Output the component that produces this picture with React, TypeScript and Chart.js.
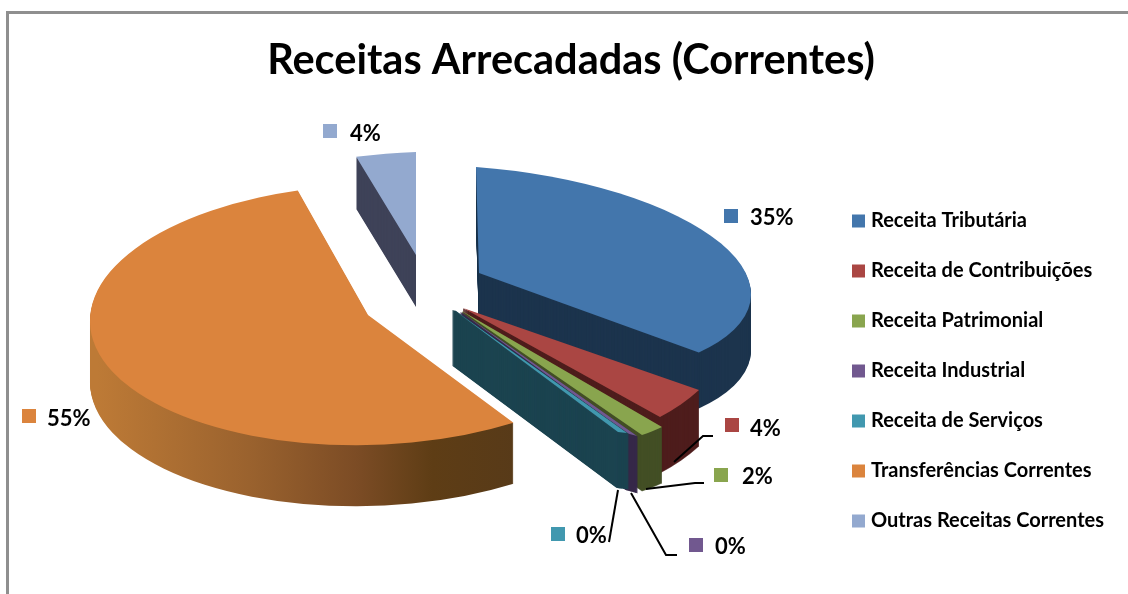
import React, { useEffect, useRef } from "react";
import Chart from "chart.js/auto";

const W = 1128;
const H = 594;
const FONT = "Lato";

const titleText = "Receitas Arrecadadas (Correntes)";
const categories = [
  "Receita Tributária",
  "Receita de Contribuições",
  "Receita Patrimonial",
  "Receita Industrial",
  "Receita de Serviços",
  "Transferências Correntes",
  "Outras Receitas Correntes",
];
const shares = [35.2, 3.9, 1.8, 0.4, 0.2, 54.7, 3.8];
const topColors = ["#4376ac", "#aa4643", "#89a54e", "#71588f", "#4198af", "#db843d", "#93a9cf"];
const wallColors = ["#1c344d", "#4e1d1c", "#434f25", "#37294a", "#1c4450", "orange", "#3e4258"];

// Projection of each slice onto the page: apex, image of the unit east / south radius, or two rim corners.
type Pt = [number, number];
type Proj = { c: Pt; e?: Pt; s?: Pt; p0?: Pt; p1?: Pt; depth: number; edge: number; step: number };
const projections: Proj[] = [
  { c: [479, 273], e: [272, 20], s: [3, 106], depth: 56, edge: 0, step: 1 },
  { c: [463, 308], p0: [699, 390], p1: [660, 417], depth: 56, edge: 0.6, step: 1 },
  { c: [462, 311], p0: [662, 427], p1: [642, 435], depth: 56, edge: 0.6, step: 1 },
  { c: [461, 312], p0: [637, 436], p1: [626, 433], depth: 57, edge: 1, step: 0.5 },
  { c: [454, 310], p0: [627, 433], p1: [618, 432], depth: 56, edge: 1.2, step: 0.5 },
  { c: [368, 315], e: [278, -8], s: [4.6, 130], depth: 61, edge: 0, step: 1 },
  { c: [416, 255], e: [253, -8], s: [0, 103], depth: 52, edge: 0, step: 1 },
];
const drawOrder = [6, 0, 5, 1, 2, 3, 4];

const labelMarks: { box: Pt; text: Pt }[] = [
  { box: [724, 209], text: [750, 218] },
  { box: [725, 418], text: [750, 429] },
  { box: [714, 468], text: [742, 477] },
  { box: [689, 538], text: [715, 547] },
  { box: [551, 527], text: [576, 536] },
  { box: [22, 409], text: [47, 419] },
  { box: [323, 124], text: [350, 134] },
];
const leaders: Pt[][] = [
  [[674, 462], [703, 436], [713, 436]],
  [[646, 489], [695, 483], [704, 483]],
  [[631, 493], [666, 555], [677, 555]],
  [[618, 490], [609, 542]],
];
const orangeStops: [number, string][] = [
  [0, "#bd7a36"],
  [0.35, "#9a622e"],
  [0.6, "#7c4c25"],
  [0.78, "#5e3d15"],
  [1, "#573a19"],
];

function solve(a0: number, a1: number, c: Pt, p0: Pt, p1: Pt) {
  const c0 = Math.cos(a0), s0 = Math.sin(a0), c1 = Math.cos(a1), s1 = Math.sin(a1);
  const det = c0 * s1 - s0 * c1;
  const dx0 = p0[0] - c[0], dy0 = p0[1] - c[1], dx1 = p1[0] - c[0], dy1 = p1[1] - c[1];
  const e: Pt = [(dx0 * s1 - s0 * dx1) / det, (dy0 * s1 - s0 * dy1) / det];
  const s: Pt = [(c0 * dx1 - c1 * dx0) / det, (c0 * dy1 - c1 * dy0) / det];
  return { e, s };
}

const pie3d = {
  id: "pie3d",
  afterLayout(chart: any) {
    const lg = chart.legend;
    const pad = lg.options.labels.padding;
    const w = lg.width, h = lg.height;
    lg.left = 856 - pad;
    lg.right = lg.left + w;
    lg.top = 181;
    lg.bottom = lg.top + h;
  },
  beforeDatasetsDraw(chart: any) {
    const ctx = chart.ctx;
    const arcs = chart.getDatasetMeta(0).data;
    for (const i of drawOrder) {
      const arc = arcs[i];
      const pr = projections[i];
      const R = arc.outerRadius;
      const { e, s } = pr.p0
        ? solve(arc.startAngle, arc.endAngle, pr.c, pr.p0, pr.p1 as Pt)
        : { e: pr.e as Pt, s: pr.s as Pt };
      const a = e[0] / R, b = e[1] / R, c = s[0] / R, d = s[1] / R;
      const tx = pr.c[0] - a * arc.x - c * arc.y;
      const ty = pr.c[1] - b * arc.x - d * arc.y;
      const saved = arc.options;
      let wall: any = wallColors[i];
      if (wall === "orange") {
        const g = ctx.createLinearGradient((90 - tx) / a, 0, (515 - tx) / a, 0);
        orangeStops.forEach(([o, col]) => g.addColorStop(o, col));
        wall = g;
      }
      arc.options = { ...saved, backgroundColor: wall, borderColor: wall, borderWidth: pr.edge };
      for (let dz = pr.depth; dz >= pr.step; dz -= pr.step) {
        ctx.save();
        ctx.transform(a, b, c, d, tx, ty + dz);
        arc.draw(ctx);
        ctx.restore();
      }
      arc.options = { ...saved, borderWidth: 0 };
      ctx.save();
      ctx.transform(a, b, c, d, tx, ty);
      arc.draw(ctx);
      ctx.restore();
      arc.options = saved;
    }
    // leader lines
    ctx.save();
    ctx.strokeStyle = "#000";
    ctx.lineWidth = 2;
    for (const line of leaders) {
      ctx.beginPath();
      line.forEach(([x, y], k) => (k ? ctx.lineTo(x, y) : ctx.moveTo(x, y)));
      ctx.stroke();
    }
    // data labels with legend keys
    const total = shares.reduce((p, v) => p + v, 0);
    ctx.font = `bold 22px ${FONT}`;
    ctx.textBaseline = "middle";
    ctx.textAlign = "left";
    labelMarks.forEach((m, i) => {
      ctx.fillStyle = topColors[i];
      ctx.fillRect(m.box[0], m.box[1], 14, 14);
      ctx.fillStyle = "#000";
      ctx.fillText(`${Math.round((shares[i] / total) * 100)}%`, m.text[0], m.text[1]);
    });
    ctx.restore();
    return false;
  },
};

export default function App() {
  const ref = useRef<HTMLCanvasElement | null>(null);
  useEffect(() => {
    const chart = new Chart(ref.current as HTMLCanvasElement, {
      type: "pie",
      data: {
        labels: categories,
        datasets: [{ data: shares, backgroundColor: topColors, borderWidth: 0 }],
      },
      options: {
        animation: false,
        responsive: false,
        events: [],
        layout: { padding: { left: 14 } },
        plugins: {
          tooltip: { enabled: false },
          title: {
            display: true,
            text: titleText,
            color: "#000",
            font: { family: FONT, size: 41.5, weight: "bold" },
            padding: { top: 36, bottom: 10 },
          },
          legend: {
            position: "right",
            align: "start",
            labels: {
              color: "#000",
              boxWidth: 5,
              boxHeight: 5,
              padding: 30,
              font: { family: FONT, size: 20, weight: "bold" },
              generateLabels: () =>
                categories.map((text, i) => ({
                  text,
                  fillStyle: topColors[i],
                  strokeStyle: topColors[i],
                  lineWidth: 8,
                  index: i,
                  datasetIndex: 0,
                })),
            },
          },
        },
      },
      plugins: [pie3d],
    } as any);
    return () => chart.destroy();
  }, []);
  return (
    <div style={{ position: "absolute", left: 0, top: 0, width: W, height: H, overflow: "hidden", background: "#fff" }}>
      <div
        style={{
          position: "absolute",
          left: 6,
          top: 11,
          width: W + 40,
          height: H + 40,
          border: "3px solid #8f8f8f",
        }}
      />
      <canvas ref={ref} width={W} height={H} style={{ position: "absolute", left: 0, top: 0 }} />
    </div>
  );
}
